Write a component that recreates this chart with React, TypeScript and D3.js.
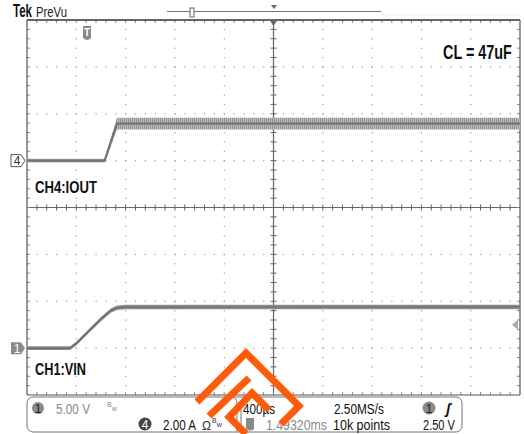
import React, { useLayoutEffect, useRef } from "react";
import * as d3 from "d3";

// ---- data (read from the scope capture) ----
const timeRangeMs = [0, 4]; // 10 div x 400us
const iTimeMs = [0, 0.63, 0.73, 4.0];
const iAmps = [0, 0, 1.58, 1.58];
const iNoiseA = [0.08, 0.08, 0.25, 0.25];
const vTimeMs = [0, 0.35, 0.4, 0.5, 0.6, 0.68, 0.73, 0.8, 4.0];
const vVolts = [0, 0, 0.5, 1.8, 3.1, 4.0, 4.3, 4.38, 4.4];
const vNoiseV = [0.2, 0.2, 0.22, 0.22, 0.22, 0.22, 0.24, 0.24, 0.24];
const ch4AmpsPerDiv = 2;
const ch1VoltsPerDiv = 5;
const ch4OffsetDiv = 3; // divisions from top
const ch1OffsetDiv = 7;
const triggerLevelV = 2.5;
const logoOuter = [[197, 402], [246, 353], [299, 406], [281, 424]];
const logoBar = [[249, 378], [209, 416]];
const logoInner = [[269, 410], [252, 393], [229, 417], [246, 434]];

const FONT = "'Liberation Sans', Arial, sans-serif";

// text squeezed horizontally to a target width (scope font is condensed)
function T(props: any) {
  const { x, y, w, children, ...rest } = props;
  const g = useRef<SVGGElement>(null);
  const t = useRef<SVGTextElement>(null);
  useLayoutEffect(() => {
    if (!t.current || !g.current) return;
    const n = t.current.getComputedTextLength();
    const s = n > 0 ? w / n : 1;
    g.current.setAttribute("transform", `translate(${x},${y}) scale(${s},1)`);
  });
  return (
    <g ref={g} transform={`translate(${x},${y})`}>
      <text ref={t} x={0} y={0} {...rest}>
        {children}
      </text>
    </g>
  );
}

export default function App() {
  const L = 27, R = 520, TOP = 20, B = 395;
  const x = d3.scaleLinear().domain(timeRangeMs).range([L, R]);
  const div = d3.scaleLinear().domain([0, 8]).range([TOP, B]);
  const xDiv = d3.scaleLinear().domain([0, 10]).range([L, R]);
  const y4 = (v: number) => div(ch4OffsetDiv - v / ch4AmpsPerDiv);
  const y1 = (v: number) => div(ch1OffsetDiv - v / ch1VoltsPerDiv);

  const iData = iTimeMs.map((t, i) => ({ t, v: iAmps[i], n: iNoiseA[i] }));
  const vData = vTimeMs.map((t, i) => ({ t, v: vVolts[i], n: vNoiseV[i] }));

  const iArea = d3.area<any>().x(d => x(d.t)).y0(d => y4(d.v - d.n)).y1(d => y4(d.v + d.n))(iData) || "";
  const iLine = d3.line<any>().x(d => x(d.t)).y(d => y4(d.v))(iData) || "";
  const vArea = d3.area<any>().x(d => x(d.t)).y0(d => y1(d.v - d.n)).y1(d => y1(d.v + d.n))(vData) || "";
  const vLine = d3.line<any>().x(d => x(d.t)).y(d => y1(d.v))(vData) || "";

  const dots: any[] = [];
  for (let k = 1; k < 10; k++) {
    if (k === 5) continue;
    for (let m = 1; m < 40; m++) {
      dots.push(<rect key={`v${k}-${m}`} x={xDiv(k) - 0.5} y={div(m / 5) - 0.5} width={1.2} height={1.2} fill="#9a9a9a" />);
    }
  }
  for (let k = 1; k < 8; k++) {
    if (k === 4) continue;
    for (let m = 1; m < 50; m++) {
      dots.push(<rect key={`h${k}-${m}`} x={xDiv(m / 5) - 0.5} y={div(k) - 0.5} width={1.2} height={1.2} fill="#9a9a9a" />);
    }
  }
  const ticks: any[] = [];
  for (let m = 1; m < 50; m++) {
    const xx = xDiv(m / 5);
    ticks.push(<line key={`ct${m}`} x1={xx} x2={xx} y1={div(4) - 3} y2={div(4) + 3} stroke="#666" strokeWidth={1} />);
    ticks.push(<line key={`tt${m}`} x1={xx} x2={xx} y1={TOP} y2={TOP + 3} stroke="#888" strokeWidth={1} />);
    ticks.push(<line key={`bt${m}`} x1={xx} x2={xx} y1={B - 3} y2={B} stroke="#888" strokeWidth={1} />);
  }
  for (let m = 1; m < 40; m++) {
    const yy = div(m / 5);
    ticks.push(<line key={`cv${m}`} x1={xDiv(5) - 3} x2={xDiv(5) + 3} y1={yy} y2={yy} stroke="#666" strokeWidth={1} />);
    ticks.push(<line key={`lv${m}`} x1={L} x2={L + 3} y1={yy} y2={yy} stroke="#888" strokeWidth={1} />);
    ticks.push(<line key={`rv${m}`} x1={R - 3} x2={R} y1={yy} y2={yy} stroke="#888" strokeWidth={1} />);
  }

  const pts = (p: number[][]) => p.map(q => q.join(",")).join(" ");
  const trigY = y1(triggerLevelV);

  return (
    <svg width={524} height={434} style={{ position: "absolute", left: 0, top: 0, background: "#fff" }} fontFamily={FONT}>
      <defs>
        <pattern id="noise" width={2} height={4} patternUnits="userSpaceOnUse">
          <rect x={0} y={0} width={2} height={4} fill="#bdbdbd" />
          <rect x={0} y={0} width={1} height={4} fill="#939393" />
        </pattern>
      </defs>
      <rect x={0} y={0} width={524} height={434} fill="#fff" />
      {/* header */}
      <T x={13} y={17} fontSize={18} fontWeight="bold" fill="#111" w={19}>Tek</T>
      <T x={36} y={17} fontSize={15} fill="#222" w={31}>PreVu</T>
      <line x1={167} x2={381} y1={11.5} y2={11.5} stroke="#777" strokeWidth={1} />
      <line x1={381} x2={520} y1={15} y2={15} stroke="#eee" strokeWidth={1} />
      <rect x={190} y={8} width={4} height={9} fill="#fff" stroke="#666" strokeWidth={1} />
      <path d={`M271,5 L277,5 L274,9 Z`} fill="#666" />

      {/* graticule */}
      {dots}
      <line x1={L} x2={R} y1={div(4)} y2={div(4)} stroke="#666" strokeWidth={1.2} />
      <line x1={xDiv(5)} x2={xDiv(5)} y1={TOP} y2={B} stroke="#666" strokeWidth={1.2} />
      {ticks}
      <line x1={L} x2={R} y1={TOP} y2={TOP} stroke="#333" strokeWidth={1.5} />
      <line x1={L} x2={L} y1={TOP} y2={B} stroke="#555" strokeWidth={1.2} />
      <line x1={R} x2={R} y1={TOP} y2={B} stroke="#555" strokeWidth={1.2} />
      <line x1={L} x2={R} y1={B} y2={B} stroke="#555" strokeWidth={1.2} />
      <path d={`M${xDiv(5) - 4},${TOP} L${xDiv(5) + 4},${TOP} L${xDiv(5)},${TOP + 6} Z`} fill="#666" />

      {/* trigger position marker */}
      <g transform="translate(87,33)">
        <path d="M-4,-7 L4,-7 L4,5 Q0,9 -4,5 Z" fill="#8a8a8a" />
        <text x={0} y={3} fontSize={10} fontWeight="bold" fill="#fff" textAnchor="middle">T</text>
      </g>

      {/* traces */}
      <path d={iArea} fill="url(#noise)" />
      <path d={iLine} fill="none" stroke="#757575" strokeWidth={2.2} />
      <path d={vArea} fill="#8e8e8e" />
      <path d={vLine} fill="none" stroke="#6a6a6a" strokeWidth={1.2} />

      {/* channel markers */}
      <path d={`M11,${y4(0) - 6} L21,${y4(0) - 6} L25,${y4(0)} L21,${y4(0) + 6} L11,${y4(0) + 6} Z`} fill="#fff" stroke="#555" strokeWidth={1} />
      <text x={17} y={y4(0) + 4.5} fontSize={12} fill="#333" textAnchor="middle">4</text>
      <path d={`M11,${y1(0) - 6} L21,${y1(0) - 6} L25,${y1(0)} L21,${y1(0) + 6} L11,${y1(0) + 6} Z`} fill="#8a8a8a" />
      <text x={17} y={y1(0) + 4.5} fontSize={12} fill="#fff" textAnchor="middle">1</text>
      <path d={`M518,${trigY - 5} L512,${trigY} L518,${trigY + 5} Z`} fill="#aaa" />

      {/* labels */}
      <T x={443} y={59} fontSize={20} fontWeight="bold" fill="#111" w={69}>CL = 47uF</T>
      <T x={35} y={193} fontSize={17} fontWeight="bold" fill="#111" w={62}>CH4:IOUT</T>
      <T x={35} y={375} fontSize={17} fontWeight="bold" fill="#111" w={51}>CH1:VIN</T>

      {/* bottom readout */}
      <rect x={27} y={397} width={435} height={35} rx={6} fill="#fff" stroke="#777" strokeWidth={1} />
      <path d="M231,397 Q237,397 237,403 L237,432" fill="none" stroke="#777" />
      <path d="M247,397 Q241,397 241,403 L241,432" fill="none" stroke="#777" />
      <circle cx={38} cy={408} r={6} fill="#8a8a8a" />
      <text x={38} y={412.5} fontSize={12} fill="#222" textAnchor="middle">1</text>
      <T x={56} y={413.5} fontSize={14.5} fill="#8a8a8a" w={34}>5.00 V</T>
      <text x={107} y={407} fontSize={7} fill="#8a8a8a">B<tspan dy={4}>w</tspan></text>
      <circle cx={145} cy={424} r={6.5} fill="#444" />
      <text x={145} y={428.5} fontSize={12} fill="#fff" textAnchor="middle">4</text>
      <T x={163} y={430} fontSize={14.5} fill="#111" w={33}>2.00 A</T>
      <T x={202} y={430} fontSize={13} fill="#333" w={9}>Ω</T>
      <text x={212} y={423} fontSize={7} fill="#333">B<tspan dy={4}>w</tspan></text>
      <T x={243} y={413.5} fontSize={14.5} fill="#111" w={32}>400µs</T>
      <T x={334} y={413.5} fontSize={14.5} fill="#111" w={50}>2.50MS/s</T>
      <circle cx={429} cy={408} r={6.5} fill="#8a8a8a" />
      <text x={429} y={412.5} fontSize={12} fill="#222" textAnchor="middle">1</text>
      <text x={446} y={413.5} fontSize={14} fontWeight="bold" fontStyle="italic" fill="#111">ʃ</text>
      <g transform="translate(250,424)">
        <path d="M-4,-6 L4,-6 L4,5 Q0,8 -4,5 Z" fill="#8a8a8a" />
      </g>
      <T x={266} y={430} fontSize={14.5} fill="#8a8a8a" w={61}>1.49320ms</T>
      <T x={333} y={430} fontSize={14.5} fill="#111" w={57}>10k points</T>
      <T x={423} y={430} fontSize={14.5} fill="#111" w={32}>2.50 V</T>

      {/* watermark logo */}
      <g fill="none" stroke="#ff5a0a" strokeWidth={7} strokeLinejoin="miter" strokeLinecap="butt">
        <polyline points={pts(logoOuter)} />
        <polyline points={pts(logoBar)} />
        <polyline points={pts(logoInner)} />
      </g>
    </svg>
  );
}
